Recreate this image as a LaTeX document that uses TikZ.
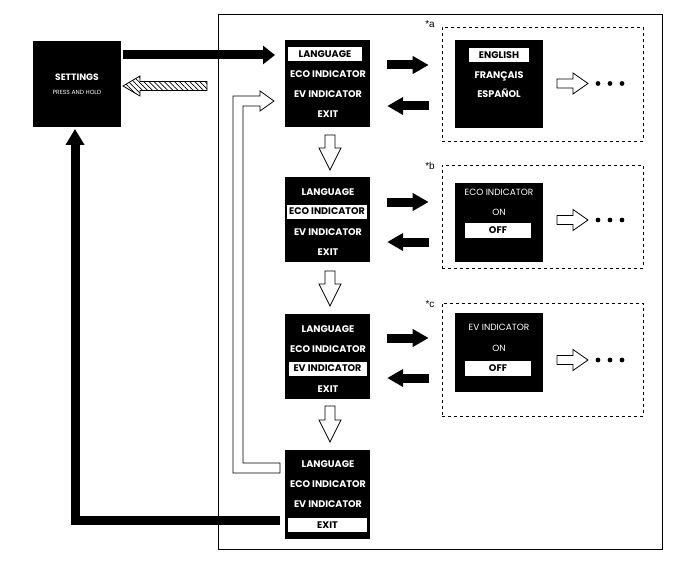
\documentclass[tikz,border=0pt]{standalone}
\usepackage{fontspec}
\setmainfont{Poppins}
\newfontfamily\lblfont{Liberation Sans}
\usetikzlibrary{arrows.meta,patterns.meta}
\newcommand\hollowdown[4]{% x, ytop, yhead, ytip
  \draw[hollow] (#1-5,#2) -- (#1+5,#2) -- (#1+5,#3) -- (#1+11,#3) -- (#1,#4) -- (#1-11,#3) -- (#1-5,#3) -- cycle;}
\newcommand\hollowright[2]{% xstart, yc
  \draw[hollow] (#1,#2-4.5) -- (#1+16,#2-4.5) -- (#1+16,#2-10.5) -- (#1+31,#2) -- (#1+16,#2+10.5) -- (#1+16,#2+4.5) -- (#1,#2+4.5) -- cycle;
  \fill (#1+41,#2) circle (2.4) (#1+53,#2) circle (2.4) (#1+65,#2) circle (2.4);}
\begin{document}
\begin{tikzpicture}[x=1pt,y=-1pt,
  blk/.style={fill=black,draw=none,inner sep=0},
  mt/.style={text=white,inner sep=0,font=\bfseries\fontsize{9.6}{11}\selectfont,text height=6.8pt,text depth=0pt},
  st/.style={text=white,inner sep=0,font=\fontsize{9}{10}\selectfont,text height=6.4pt,text depth=0pt},
  hl/.style={fill=white,text=black,minimum height=14pt},
  panel/.style={draw,dashed,line width=0.7pt,inner sep=0},
  lbl/.style={font=\lblfont\fontsize{10}{11}\selectfont,inner sep=0},
  hollow/.style={draw,fill=white,line width=0.8pt,line join=miter},
  fat/.style={line width=9pt,line join=miter},
]
\useasboundingbox (0,0) rectangle (690,564);
% main frame
\node[draw,line width=0.8pt,minimum width=444pt,minimum height=535pt,inner sep=0] (frame) at (440,281.5) {};
% settings
\node[blk,minimum width=88pt,minimum height=86pt] (settings) at (77,84) {};
\node[text=white,inner sep=0,font=\bfseries\fontsize{9.2}{10}\selectfont] (setT) at (77,77) {SETTINGS};
\node[text=white,inner sep=0,font=\fontsize{6}{7}\selectfont] (setP) at (77,92) {PRESS AND HOLD};
% menus
\node[blk,minimum width=85pt,minimum height=87pt] (m1) at (327.5,83.5) {};
\node[blk,minimum width=85pt,minimum height=85pt] (m2) at (327.5,219.5) {};
\node[blk,minimum width=85pt,minimum height=85pt] (m3) at (327.5,356) {};
\node[blk,minimum width=85pt,minimum height=89pt] (m4) at (327.5,494.5) {};
% menu 1
\node[mt,hl,minimum width=74pt] (m1a) at (325,54) {LANGUAGE};
\node[mt] (m1b) at (328,74) {ECO INDICATOR};
\node[mt] (m1c) at (328,94) {EV INDICATOR};
\node[mt] (m1d) at (328,114) {EXIT};
% menu 2
\node[mt] (m2a) at (328,192) {LANGUAGE};
\node[mt,hl,minimum width=80pt] (m2b) at (327,211.5) {ECO INDICATOR};
\node[mt] (m2c) at (328,232) {EV INDICATOR};
\node[mt] (m2d) at (328,252) {EXIT};
% menu 3
\node[mt] (m3a) at (328,329) {LANGUAGE};
\node[mt] (m3b) at (328,349) {ECO INDICATOR};
\node[mt,hl,minimum width=78pt] (m3c) at (327.5,368.5) {EV INDICATOR};
\node[mt] (m3d) at (328,389) {EXIT};
% menu 4
\node[mt] (m4a) at (328,464) {LANGUAGE};
\node[mt] (m4b) at (328,484) {ECO INDICATOR};
\node[mt] (m4c) at (328,504) {EV INDICATOR};
\node[mt,hl,minimum width=79pt] (m4d) at (327.5,525) {EXIT};
% panels
\node[panel,minimum width=201pt,minimum height=114pt] (pa) at (542.5,84) {};
\node[panel,minimum width=201pt,minimum height=103pt] (pb) at (542.5,216.5) {};
\node[panel,minimum width=201pt,minimum height=113pt] (pc) at (542.5,359.5) {};
\node[lbl] (la) at (430,24) {*a};
\node[lbl] (lb) at (430,166) {*b};
\node[lbl] (lc) at (430,304) {*c};
% panel a
\node[blk,minimum width=88pt,minimum height=88pt] (ia) at (499,84) {};
\node[mt,hl,minimum width=60pt] (ia1) at (499,55) {ENGLISH};
\node[mt] (ia2) at (499,75) {FRANÇAIS};
\node[mt] (ia3) at (499,94) {ESPAÑOL};
% panel b
\node[blk,minimum width=88pt,minimum height=79pt] (ib) at (499,222.5) {};
\node[st] (ib1) at (499,192) {ECO INDICATOR};
\node[st] (ib2) at (499,212) {ON};
\node[mt,hl,minimum width=66pt,minimum height=15pt] (ib3) at (498,230.5) {OFF};
% panel c
\node[blk,minimum width=88pt,minimum height=79pt] (ic) at (499,352.5) {};
\node[st] (ic1) at (499,327) {EV INDICATOR};
\node[st] (ic2) at (499,348) {ON};
\node[mt,hl,minimum width=66pt,minimum height=15pt] (ic3) at (498,368.5) {OFF};
% hollow right arrows and dots
\hollowright{557}{83.5}
\hollowright{557}{220}
\hollowright{557}{360}
% hollow down arrows
\hollowdown{330}{135}{148}{170}
\hollowdown{330}{271}{284}{306}
\hollowdown{330}{406}{420}{442}
% settings -> menu 1
\coordinate (s1) at (123,55);
\coordinate (s2) at (275,55);
\draw[fat,-{Triangle[width=18pt,length=12pt]}] (s1) -- (s2);
% hatched return
\draw[line width=0.8pt,pattern={Lines[angle=-45,distance=3.6pt,line width=0.7pt]}] (123,86) -- (140,76) -- (140,81.5) -- (207,81.5) -- (207,90.5) -- (140,90.5) -- (140,96) -- cycle;
% menu <-> panel arrows
\foreach \m/\p/\ya/\yb in {m1/pa/65/106, m2/pb/202/242, m3/pc/338/378}{
  \draw[fat,-{Triangle[width=17pt,length=16pt]}] ([xshift=17pt]\m.east |- 0,\ya) -- ([xshift=-13pt]\p.west |- 0,\ya);
  \draw[fat,-{Triangle[width=17pt,length=16pt]}] ([xshift=-13pt]\p.west |- 0,\yb) -- ([xshift=17pt]\m.east |- 0,\yb);
}
% loop back arrow (menu 4 -> menu 1)
\draw[hollow] (280,463) -- (243,463) -- (243,106) -- (260,106) -- (260,111) -- (274,101) -- (260,91) -- (260,96) -- (233,96) -- (233,473) -- (280,473) -- cycle;
% exit -> settings
\coordinate (e1) at (280,520);
\coordinate (e2) at (75,129);
\draw[fat,-{Triangle[width=18pt,length=16pt]}] (e1) -| (e2);
\end{tikzpicture}
\end{document}
